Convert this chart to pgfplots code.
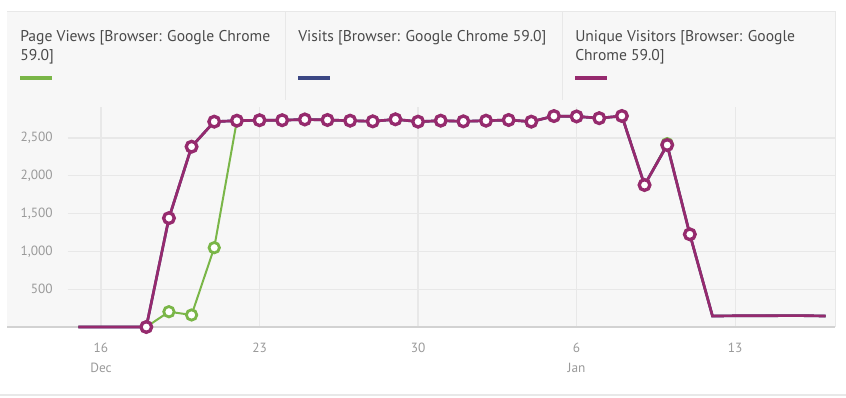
\documentclass[border=0pt]{standalone}
\usepackage{fontspec}
\setmainfont{PT Sans}
\usepackage{pgfplots}
\pgfplotsset{compat=1.18}
\usepackage{pgfplotstable}

\definecolor{pv}{HTML}{7AB648}
\definecolor{vis}{HTML}{3B4784}
\definecolor{uv}{HTML}{962A6E}
\definecolor{panel}{HTML}{F7F7F7}
\definecolor{gridc}{HTML}{E8E8E8}
\definecolor{axc}{HTML}{D2D2D2}
\definecolor{tickc}{HTML}{9A9A9A}
\definecolor{legc}{HTML}{4A4A4A}

% d = days after 16 Dec
\pgfplotstableread{
d   uv    pv    vis
-1  0     0     0
0   0     0     0
1   0     0     0
2   0     0     0
3   1440  202   1440
4   2385  159   2385
5   2716  1049  2716
6   2729  2729  2729
7   2735  2735  2735
8   2735  2735  2735
9   2745  2745  2745
10  2738  2738  2738
11  2729  2729  2729
12  2720  2720  2720
13  2747  2747  2747
14  2716  2716  2716
15  2729  2729  2729
16  2720  2720  2720
17  2729  2729  2729
18  2738  2738  2738
19  2716  2716  2716
20  2790  2790  2790
21  2785  2785  2785
22  2762  2762  2762
23  2791  2791  2791
24  1878  1878  1878
25  2407  2425  2407
26  1226  1226  1226
27  145   145   145
28  148   148   148
29  148   148   148
30  150   150   150
31  150   150   150
32  145   145   145
}\data

\begin{document}
\begin{tikzpicture}[x=0.75pt,y=0.75pt]
\path[use as bounding box] (0,0) rectangle (846,398);
\fill[panel] (7,71) rectangle (835,386);
\draw[gridc, line width=0.75pt] (7,386) -- (835,386) -- (835,71);
\draw[gridc, line width=0.75pt] (285,386) -- (285,298);
\draw[gridc, line width=0.75pt] (562,386) -- (562,298);
\draw[gridc, line width=1.1pt] (0,3) -- (846,3);

\node[anchor=north west, inner sep=0pt, align=left, text=legc,
  font=\fontsize{11.7}{14.6}\selectfont] at (20,368)
  {Page Views [Browser: Google Chrome\\59.0]};
\node[anchor=north west, inner sep=0pt, align=left, text=legc,
  font=\fontsize{11.7}{14.6}\selectfont] at (298,368)
  {Visits [Browser: Google Chrome 59.0]};
\node[anchor=north west, inner sep=0pt, align=left, text=legc,
  font=\fontsize{11.7}{14.6}\selectfont] at (575,368)
  {Unique Visitors [Browser: Google\\Chrome 59.0]};
\fill[pv]  (20,318) rectangle (52,322);
\fill[vis] (298,318) rectangle (330,322);
\fill[uv]  (575,318) rectangle (607,322);

\begin{axis}[
  at={(5.25pt,53.25pt)}, anchor=south west,
  scale only axis, width=621pt, height=165pt,
  xmin=-4.15, xmax=32.41, ymin=0, ymax=2910,
  clip=false,
  axis x line*=bottom, axis y line*=left,
  x axis line style={draw=axc, line width=1.3pt},
  y axis line style={draw=none},
  major tick length=0pt,
  xtick={0,7,14,21,28},
  xticklabels={{16\\Dec},23,30,{6\\Jan},13},
  ytick={500,1000,1500,2000,2500},
  yticklabels={500,{1,000},{1,500},{2,000},{2,500}},
  xmajorgrids, grid style={draw=gridc, line width=0.9pt},
  tick label style={text=tickc, font=\fontsize{10}{14.6}\selectfont},
  xticklabel style={align=center, anchor=north, inner sep=0pt, yshift=-12pt},
  yticklabel style={anchor=east, inner sep=0pt, xshift=34.5pt},
]
\draw[gridc, line width=0.9pt] (axis cs:-1.457,500) -- (axis cs:32.41,500);
\draw[gridc, line width=0.9pt] (axis cs:-1.457,1000) -- (axis cs:32.41,1000);
\draw[gridc, line width=0.9pt] (axis cs:-1.457,1500) -- (axis cs:32.41,1500);
\draw[gridc, line width=0.9pt] (axis cs:-1.457,2000) -- (axis cs:32.41,2000);
\draw[gridc, line width=0.9pt] (axis cs:-1.457,2500) -- (axis cs:32.41,2500);

\addplot[pv, line width=1.5pt, no markers] table[x=d,y=pv]{\data};
\addplot[only marks, mark=*, mark size=3.9pt,
  mark options={draw=pv, fill=white, line width=2.1pt},
  restrict x to domain=2:26] table[x=d,y=pv]{\data};
\addplot[vis, line width=2pt, no markers] table[x=d,y=vis]{\data};
\addplot[uv, line width=2pt, no markers] table[x=d,y=uv]{\data};
\addplot[only marks, mark=*, mark size=4pt,
  mark options={draw=uv, fill=white, line width=2.5pt},
  restrict x to domain=2:26] table[x=d,y=uv]{\data};
\end{axis}
\end{tikzpicture}
\end{document}
